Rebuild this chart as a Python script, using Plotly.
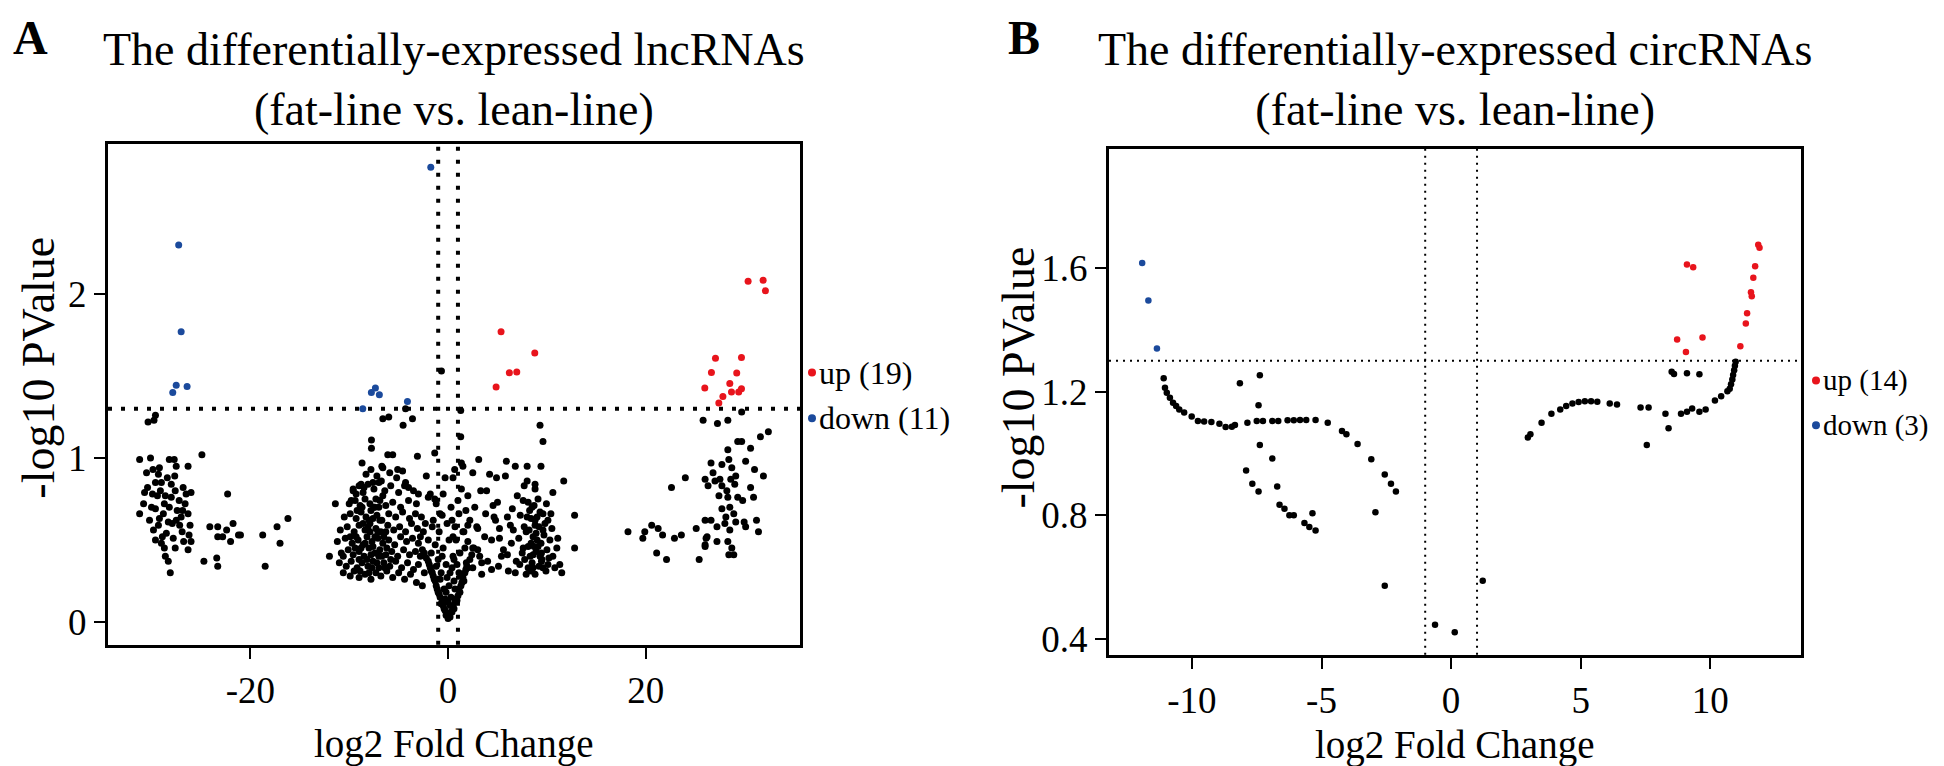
import plotly.graph_objects as go

# ---------------- Panel A: lncRNAs (log2FC, -log10 P) ----------------
lnc_up = [(5.36, 1.77), (8.77, 1.64), (6.2, 1.52), (6.95, 1.524), (4.86, 1.433),
          (30.35, 2.078), (31.87, 2.084), (32.1, 2.02), (27.05, 1.609), (29.68, 1.613),
          (26.64, 1.522), (29.2, 1.518), (25.97, 1.427), (28.5, 1.455), (28.67, 1.403),
          (29.4, 1.403), (29.68, 1.423), (27.8, 1.375), (27.39, 1.336)]

lnc_down = [(-1.75, 2.774), (-27.25, 2.30), (-27.0, 1.77), (-27.5, 1.444), (-27.85, 1.40),
            (-26.4, 1.436), (-8.63, 1.30), (-7.76, 1.40), (-7.35, 1.427), (-6.95, 1.386),
            (-4.11, 1.345)]

lnc_ns_left = [(-30.35, 1.22), (-29.75, 1.23), (-29.6, 1.26), (-31.2, 0.99), (-30.1, 1.0),
               (-28.2, 0.99), (-27.7, 0.99), (-27.5, 0.95), (-26.3, 0.95), (-30.5, 0.91),
               (-29.85, 0.93), (-29.2, 0.94), (-28.4, 0.88), (-27.65, 0.89), (-30.4, 0.82),
               (-29.6, 0.85), (-29.0, 0.85), (-26.8, 0.82), (-26.0, 0.79), (-29.9, 0.78),
               (-29.1, 0.80), (-28.6, 0.77), (-28.0, 0.76), (-30.8, 0.72), (-29.6, 0.69),
               (-28.7, 0.72), (-26.6, 0.72), (-31.2, 0.66), (-30.2, 0.62), (-29.2, 0.63),
               (-28.3, 0.61), (-27.5, 0.62), (-26.85, 0.68), (-26.3, 0.66), (-29.3, 0.59),
               (-27.15, 0.59), (-26.1, 0.59), (-29.6, 0.50), (-28.9, 0.52), (-27.8, 0.51),
               (-26.75, 0.49), (-26.0, 0.49), (-26.3, 0.44), (-28.6, 0.40), (-28.3, 0.37),
               (-28.1, 0.30), (-30.0, 0.70), (-29.4, 0.77), (-28.8, 0.66), (-28.2, 0.70),
               (-27.6, 0.80), (-27.2, 0.74), (-26.9, 0.55), (-27.0, 0.64), (-28.5, 0.54),
               (-29.0, 0.48), (-27.9, 0.60), (-26.5, 0.78), (-30.7, 0.79), (-29.8, 0.56),
               (-28.0, 0.84), (-27.4, 0.68), (-26.2, 0.53), (-28.7, 0.45), (-27.6, 0.45),
               (-29.3, 0.90), (-24.9, 1.02), (-22.3, 0.78), (-24.7, 0.37), (-24.1, 0.58),
               (-23.3, 0.58), (-23.3, 0.52), (-22.8, 0.52), (-22.4, 0.56), (-22.0, 0.49),
               (-21.75, 0.60), (-21.2, 0.53), (-21.0, 0.53), (-23.4, 0.39), (-23.3, 0.34),
               (-18.75, 0.53), (-18.5, 0.34), (-17.3, 0.58), (-17.0, 0.48), (-16.2, 0.63)]

lnc_ns_center = [(-12.0, 0.40), (-11.4, 0.72), (-10.6, 0.40), (-9.6, 0.81), (-8.7, 0.97),
                 (-7.75, 1.11), (-7.75, 1.06), (-6.6, 1.24), (-6.0, 1.25), (-4.55, 1.20),
                 (-4.3, 1.30), (-3.6, 1.24), (-0.67, 1.53), (-1.35, 1.03), (-3.1, 1.01),
                 (2.5, 0.91), (1.35, 0.97), (1.28, 1.29), (1.28, 1.13), (0.67, 0.93),
                 (0.5, 0.88), (1.35, 0.81), (1.0, 0.74), (-2.2, 0.89), (-3.0, 0.78),
                 (-4.0, 0.82), (-4.4, 0.83), (-6.1, 1.02), (-5.6, 1.02), (-6.7, 0.95),
                 (-5.1, 0.93), (-6.75, 0.86), (-7.6, 0.85), (-8.8, 0.84), (-9.3, 0.78),
                 (-9.8, 0.74), (-2.0, 0.76), (-1.35, 0.75), (3.1, 0.99), (4.9, 0.88),
                 (5.8, 0.89), (5.9, 0.98), (3.9, 0.80), (8.0, 0.95), (9.4, 0.95),
                 (9.3, 1.20), (9.6, 1.10), (11.7, 0.86), (12.8, 0.65), (12.8, 0.45),
                 (10.6, 0.79), (11.5, 0.30), (4.55, 0.71), (4.65, 0.64), (6.0, 0.64),
                 (6.5, 0.69), (4.4, 0.50), (5.2, 0.57), (6.3, 0.59), (6.4, 0.48),
                 (5.2, 0.51), (4.0, 0.37), (5.1, 0.34), (6.1, 0.31), (5.4, 0.40),
                 (7.7, 0.83), (8.0, 0.86), (8.8, 0.84), (7.6, 0.74), (8.1, 0.73),
                 (8.8, 0.81), (9.95, 0.72), (9.3, 0.67), (10.1, 0.62), (10.5, 0.57),
                 (11.1, 0.51), (9.6, 0.56), (8.8, 0.59), (8.4, 0.63), (7.9, 0.55),
                 (7.6, 0.45), (7.15, 0.51), (6.9, 0.37), (7.25, 0.35), (8.1, 0.33),
                 (8.8, 0.29), (9.6, 0.33), (10.1, 0.35), (10.8, 0.33), (7.9, 0.29),
                 (8.6, 0.41), (9.1, 0.46), (8.4, 0.48), (8.9, 0.54), (8.25, 0.68),
                 (8.7, 0.71), (9.0, 0.64), (9.45, 0.42), (9.45, 0.37), (7.75, 0.38),
                 (3.4, 0.36), (3.0, 0.44), (3.0, 0.57), (2.0, 0.49), (1.85, 0.36),
                 (1.35, 0.29), (2.5, 0.33), (3.4, 0.29), (2.0, 0.59),
                 (8.3, 0.40), (8.9, 0.43), (9.4, 0.48), (8.6, 0.52), (9.2, 0.58),
                 (8.8, 0.62), (9.6, 0.66), (8.5, 0.70), (9.1, 0.75), (9.5, 0.38),
                 (10.0, 0.44), (10.3, 0.50), (7.7, 0.58), (7.3, 0.65), (8.1, 0.46),
                 (9.9, 0.31), (8.6, 0.33), (7.5, 0.42), (9.7, 0.53), (10.6, 0.40),
                 (11.0, 0.45), (11.3, 0.35), (10.4, 0.66), (7.0, 0.77), (6.6, 0.56),
                 (5.6, 0.44), (4.8, 0.62), (3.7, 0.52), (2.7, 0.70), (2.2, 0.62),
                 (1.6, 0.55), (3.3, 0.80), (2.0, 0.77), (4.2, 0.90), (6.8, 0.95),
                 (1.5, 0.95), (1.8, 0.68), (2.9, 0.58), (3.8, 0.66), (5.0, 0.73),
                 (6.0, 0.41), (6.8, 0.30), (4.4, 0.32), (3.2, 0.40), (2.5, 0.45),
                 (8.5, 0.36), (9.0, 0.50), (8.2, 0.56), (9.3, 0.40), (8.7, 0.46),
                 (9.8, 0.60), (8.0, 0.64), (9.2, 0.34), (8.4, 0.31), (10.2, 0.39),
                 (-10.6, 0.30), (-9.9, 0.28), (-9.5, 0.31), (-9.0, 0.27), (-8.4, 0.29),
                 (-7.8, 0.26), (-7.3, 0.30), (-6.8, 0.28), (-6.2, 0.31), (-5.6, 0.27),
                 (-5.0, 0.30), (-4.4, 0.26), (-3.8, 0.29), (-3.2, 0.24), (-2.6, 0.22),
                 (-11.0, 0.36), (-10.3, 0.34), (-9.8, 0.37), (-9.2, 0.33), (-8.7, 0.36),
                 (-8.1, 0.34), (-7.6, 0.37), (-7.0, 0.33), (-6.5, 0.36), (-5.9, 0.34),
                 (-5.3, 0.37), (-4.7, 0.33), (-4.1, 0.36), (-3.5, 0.32), (-3.0, 0.35),
                 (-2.4, 0.30), (-10.8, 0.42), (-10.1, 0.44), (-9.6, 0.41), (-9.0, 0.43),
                 (-8.5, 0.40), (-8.0, 0.45), (-7.4, 0.42), (-6.9, 0.44), (-6.3, 0.41),
                 (-5.7, 0.43), (-5.1, 0.40), (-4.5, 0.44), (-3.9, 0.41), (-3.3, 0.43),
                 (-2.8, 0.40), (-11.2, 0.49), (-10.4, 0.51), (-9.7, 0.48), (-9.1, 0.50),
                 (-8.6, 0.47), (-8.2, 0.52), (-7.7, 0.49), (-7.1, 0.51), (-6.6, 0.48),
                 (-6.0, 0.50), (-5.4, 0.47), (-4.8, 0.52), (-4.2, 0.49), (-3.6, 0.51),
                 (-3.0, 0.48), (-10.9, 0.56), (-10.2, 0.58), (-9.5, 0.55), (-9.0, 0.59),
                 (-8.4, 0.56), (-7.9, 0.60), (-7.3, 0.57), (-6.8, 0.55), (-6.1, 0.59),
                 (-5.5, 0.56), (-4.9, 0.58), (-4.3, 0.55), (-3.7, 0.60), (-3.1, 0.57),
                 (-2.5, 0.55), (-10.5, 0.64), (-9.9, 0.66), (-9.3, 0.63), (-8.8, 0.67),
                 (-8.3, 0.64), (-7.8, 0.68), (-7.2, 0.65), (-6.7, 0.62), (-6.0, 0.66),
                 (-5.3, 0.64), (-4.6, 0.67), (-3.9, 0.63), (-3.3, 0.66), (-2.7, 0.64),
                 (-10.0, 0.72), (-9.4, 0.74), (-8.9, 0.71), (-8.4, 0.75), (-7.9, 0.72),
                 (-7.4, 0.70), (-6.9, 0.74), (-6.3, 0.71), (-5.6, 0.73), (-4.8, 0.70),
                 (-4.0, 0.74), (-3.2, 0.72), (-9.6, 0.80), (-9.0, 0.83), (-8.6, 0.79),
                 (-8.1, 0.84), (-7.5, 0.81), (-7.0, 0.85), (-6.4, 0.80), (-5.8, 0.83),
                 (-5.0, 0.79), (-4.3, 0.85), (-3.5, 0.80), (-8.3, 0.90), (-7.8, 0.93),
                 (-7.2, 0.89), (-6.6, 0.94), (-5.9, 0.91), (-5.2, 0.88), (-4.6, 0.92),
                 (-8.2, 0.38), (-7.6, 0.46), (-7.1, 0.55), (-8.0, 0.62), (-7.5, 0.70),
                 (-6.6, 0.77), (-8.8, 0.45), (-9.3, 0.52), (-6.2, 0.45), (-5.8, 0.38),
                 (-7.0, 0.40), (-8.6, 0.60), (-7.7, 0.33), (-9.0, 0.38), (-6.5, 0.52),
                 (-7.9, 0.55), (-8.4, 0.48), (-6.9, 0.62), (-7.3, 0.75), (-8.7, 0.70),
                 (-8.9, 0.31), (-8.0, 0.30), (-7.2, 0.36), (-6.4, 0.33), (-9.4, 0.45),
                 (-7.8, 0.41), (-6.7, 0.40), (-9.9, 0.52), (-8.1, 0.58), (-7.4, 0.52),
                 (-6.3, 0.55), (-9.2, 0.68), (-7.6, 0.63), (-7.0, 0.70), (-8.5, 0.82),
                 (-2.0, 0.50), (-1.5, 0.62), (-1.2, 0.72), (-0.8, 0.66), (-2.3, 0.60),
                 (-1.8, 0.78), (-0.5, 0.78), (0.3, 0.70), (0.7, 0.58), (1.1, 0.66),
                 (-1.7, 0.42), (1.7, 0.45), (-2.8, 0.52), (-0.3, 0.88), (0.5, 0.52)]

lnc_ns_vshape = [(0.0, 0.02), (0.1, 0.04), (-0.1, 0.05), (0.2, 0.03), (-0.2, 0.04),
                 (0.3, 0.06), (-0.3, 0.07), (0.4, 0.06), (-0.4, 0.08), (0.5, 0.09),
                 (-0.5, 0.10), (0.6, 0.08), (-0.6, 0.12), (0.7, 0.12), (-0.7, 0.11),
                 (0.8, 0.14), (-0.8, 0.15), (0.9, 0.13), (-0.9, 0.17), (1.0, 0.16),
                 (-1.0, 0.18), (1.1, 0.20), (-1.1, 0.20), (1.2, 0.18), (-1.2, 0.22),
                 (1.3, 0.22), (-1.3, 0.25), (1.4, 0.24), (-1.4, 0.26), (1.5, 0.27),
                 (-1.5, 0.28), (1.6, 0.25), (-1.6, 0.30), (1.7, 0.30), (-1.7, 0.31),
                 (1.8, 0.32), (-1.8, 0.33), (1.9, 0.34), (-1.9, 0.35), (2.0, 0.33),
                 (-2.0, 0.37), (2.2, 0.38), (-2.2, 0.39), (2.4, 0.41), (-2.4, 0.42),
                 (2.6, 0.45), (-2.6, 0.44), (0.3, 0.15), (-0.4, 0.20), (0.6, 0.25),
                 (-0.7, 0.30), (0.9, 0.35), (-1.0, 0.38), (0.2, 0.30), (-0.2, 0.35),
                 (0.5, 0.40), (-0.5, 0.45), (1.2, 0.42), (-1.3, 0.47), (0.8, 0.50),
                 (-0.9, 0.55), (0.1, 0.50), (-0.1, 0.60), (0.4, 0.62), (-0.6, 0.65),
                 (1.5, 0.55), (-1.6, 0.58), (0.0, 0.12), (0.1, 0.22), (-0.1, 0.27),
                 (0.4, 0.33), (-0.3, 0.14), (0.7, 0.20), (-0.8, 0.26), (1.1, 0.30),
                 (-1.2, 0.34), (0.2, 0.10), (-0.2, 0.18), (0.6, 0.38), (-0.6, 0.40)]

lnc_ns_right = [(18.2, 0.55), (19.7, 0.51), (19.9, 0.55), (20.6, 0.59), (21.25, 0.57),
                (21.7, 0.53), (21.1, 0.42), (22.1, 0.38), (22.9, 0.51), (23.6, 0.53),
                (22.6, 0.82), (24.0, 0.88), (25.1, 0.57), (25.4, 0.38), (26.0, 0.47),
                (26.1, 0.51), (25.8, 1.23), (27.25, 1.21), (28.3, 1.23), (29.7, 1.28),
                (32.4, 1.16), (31.6, 1.13), (29.3, 1.10), (29.7, 1.10), (30.6, 1.06),
                (28.3, 1.05), (28.4, 0.99), (30.1, 0.98), (26.6, 0.97), (27.7, 0.96),
                (28.7, 0.94), (31.0, 0.93), (31.9, 0.89), (26.8, 0.91), (26.0, 0.87),
                (26.3, 0.83), (27.0, 0.86), (27.7, 0.83), (29.0, 0.84), (28.2, 0.80),
                (27.4, 0.77), (28.3, 0.76), (29.3, 0.76), (30.6, 0.82), (30.9, 0.76),
                (29.8, 0.74), (27.7, 0.69), (28.5, 0.70), (28.9, 0.66), (26.0, 0.62),
                (26.6, 0.62), (28.1, 0.64), (29.1, 0.61), (29.95, 0.61), (31.2, 0.62),
                (27.2, 0.58), (28.5, 0.56), (30.1, 0.58), (31.4, 0.55), (26.2, 0.52),
                (27.2, 0.49), (28.3, 0.49), (28.7, 0.45), (28.4, 0.41), (28.9, 0.41),
                (26.0, 0.46), (28.0, 0.60), (27.5, 0.87), (28.6, 0.87), (29.1, 0.89)]

# ---------------- Panel B: circRNAs ----------------
circ_up = [(9.1, 1.613), (9.34, 1.604), (11.85, 1.677), (11.9, 1.667), (11.73, 1.607),
           (11.66, 1.57), (11.57, 1.523), (11.6, 1.51), (11.37, 1.422), (11.42, 1.455),
           (8.72, 1.37), (9.7, 1.376), (9.06, 1.329), (11.16, 1.348)]

circ_down = [(-11.92, 1.618), (-11.68, 1.496), (-11.35, 1.341)]

circ_ns = [(-11.09, 1.244), (-11.04, 1.213), (-10.97, 1.197), (-10.85, 1.181), (-10.73, 1.165),
           (-10.61, 1.154), (-10.49, 1.143), (-10.3, 1.133), (-10.01, 1.12), (-9.77, 1.106),
           (-9.53, 1.104), (-9.25, 1.102), (-8.94, 1.097), (-8.7, 1.086), (-8.46, 1.087),
           (-8.34, 1.093), (-7.86, 1.10), (-7.5, 1.106), (-7.26, 1.106), (-6.9, 1.106),
           (-6.67, 1.106), (-6.31, 1.108), (-6.07, 1.108), (-5.83, 1.109), (-5.59, 1.109),
           (-5.23, 1.109), (-4.76, 1.10), (-4.21, 1.073), (-4.04, 1.063), (-3.61, 1.031),
           (-3.08, 0.982), (-2.56, 0.932), (-2.32, 0.902), (-2.13, 0.877), (-2.92, 0.81),
           (-2.56, 0.572), (-7.43, 1.157), (-7.38, 1.028), (-6.9, 0.984), (-7.91, 0.945),
           (-7.67, 0.902), (-7.43, 0.877), (-6.71, 0.893), (-6.62, 0.834), (-6.43, 0.821),
           (-6.24, 0.80), (-6.07, 0.80), (-5.66, 0.775), (-5.47, 0.762), (-5.23, 0.751),
           (-5.35, 0.807), (-8.15, 1.228), (-7.38, 1.254), (-0.62, 0.445), (0.14, 0.421),
           (1.22, 0.588), (2.96, 1.052), (3.06, 1.063), (3.49, 1.10), (3.87, 1.129),
           (4.21, 1.143), (4.44, 1.154), (4.68, 1.162), (4.92, 1.167), (5.16, 1.17),
           (5.4, 1.17), (5.64, 1.168), (6.12, 1.162), (6.4, 1.159), (7.31, 1.149),
           (7.62, 1.149), (7.55, 1.028), (8.27, 1.129), (8.39, 1.082), (8.87, 1.129),
           (9.1, 1.136), (9.3, 1.146), (9.58, 1.136), (9.82, 1.143), (10.18, 1.172),
           (10.42, 1.186), (10.66, 1.202), (10.75, 1.21), (10.8, 1.225), (10.85, 1.24),
           (10.88, 1.255), (10.92, 1.27), (10.95, 1.285), (10.98, 1.298), (8.51, 1.265),
           (8.6, 1.258), (9.1, 1.26), (9.58, 1.257)]

lnc_legend = ["up (19)", "down (11)"]
circ_legend = ["up (14)", "down (3)"]
titles = ["The differentially-expressed lncRNAs<br>(fat-line vs. lean-line)",
          "The differentially-expressed circRNAs<br>(fat-line vs. lean-line)"]
panel_labels = ["A", "B"]
lnc_xticks = [-20, 0, 20]
lnc_yticks = [0, 1, 2]
circ_xticks = [-10, -5, 0, 5, 10]
circ_yticks = [0.4, 0.8, 1.2, 1.6]
FC_CUT = 1.0
P_CUT = 1.301

RED = "#E8141C"
BLUE = "#1B4A9C"
BLACK = "#000000"
FONT = "Liberation Serif"

W, H = 1944, 766
# box positions in pixels (left, right, top, bottom)
boxA = (100, 792, 137, 641)
boxB = (1101, 1793, 142, 651)


def dom(box):
    l, r, t, b = box
    return [l / W, r / W], [1 - b / H, 1 - t / H]


def lab(v):
    return "%g" % v  # plain hyphen-minus as in the reference


fig = go.Figure()


def add_pts(pts, color, size, xa, ya):
    fig.add_trace(go.Scatter(
        x=[p[0] for p in pts], y=[p[1] for p in pts], mode="markers",
        marker=dict(color=color, size=size, line=dict(width=0)),
        xaxis=xa, yaxis=ya, showlegend=False, hoverinfo="x+y"))


lnc_ns = lnc_ns_left + lnc_ns_center + lnc_ns_vshape + lnc_ns_right
add_pts(lnc_ns, BLACK, 7, "x", "y")
add_pts(lnc_up, RED, 7, "x", "y")
add_pts(lnc_down, BLUE, 7, "x", "y")
add_pts(circ_ns, BLACK, 6.5, "x2", "y2")
add_pts(circ_up, RED, 6.5, "x2", "y2")
add_pts(circ_down, BLUE, 6.5, "x2", "y2")

xdA, ydA = dom(boxA)
xdB, ydB = dom(boxB)
tickfont = dict(family=FONT, size=37, color="black")
axcommon = dict(showline=True, linecolor="black", linewidth=3, mirror=True,
                ticks="outside", ticklen=11, tickwidth=2, tickcolor="black",
                showgrid=False, zeroline=False, tickfont=tickfont)

fig.update_layout(
    width=W, height=H, paper_bgcolor="white", plot_bgcolor="white",
    margin=dict(l=0, r=0, t=0, b=0),
    xaxis=dict(domain=xdA, range=[-34.4, 35.6], tickvals=lnc_xticks,
               ticktext=[lab(v) for v in lnc_xticks], anchor="y", **axcommon),
    yaxis=dict(domain=ydA, range=[-0.14, 2.915], tickvals=lnc_yticks,
               ticktext=[lab(v) for v in lnc_yticks], anchor="x", **axcommon),
    xaxis2=dict(domain=xdB, range=[-13.2, 13.5], tickvals=circ_xticks,
                ticktext=[lab(v) for v in circ_xticks], anchor="y2", **axcommon),
    yaxis2=dict(domain=ydB, range=[0.348, 1.987], tickvals=circ_yticks,
                ticktext=["%.1f" % v for v in circ_yticks], anchor="x2", **axcommon),
)

# threshold lines
for xr, yr, dash, lw in [("x", "y", "4px,9px", 4), ("x2", "y2", "2px,5px", 2)]:
    for fc in (-FC_CUT, FC_CUT):
        fig.add_shape(type="line", xref=xr, yref=yr + " domain", x0=fc, x1=fc, y0=0, y1=1,
                      line=dict(color="black", width=lw, dash=dash), layer="below")
    fig.add_shape(type="line", xref=xr + " domain", yref=yr, x0=0, x1=1, y0=P_CUT, y1=P_CUT,
                  line=dict(color="black", width=lw, dash=dash), layer="below")

ann = []
# titles
for box, txt, ty in [(boxA, titles[0], 72), (boxB, titles[1], 72)]:
    cx = (box[0] + box[1]) / 2
    ann.append(dict(text=txt, x=cx / W, y=1 - ty / H, xref="paper", yref="paper",
                    xanchor="center", yanchor="middle", showarrow=False,
                    font=dict(family=FONT, size=46, color="black")))
# panel labels
for lbl, px in [(panel_labels[0], 3), (panel_labels[1], 998)]:
    ann.append(dict(text="<b>" + lbl + "</b>", x=px / W, y=1 - 30 / H, xref="paper", yref="paper",
                    xanchor="left", yanchor="middle", showarrow=False,
                    font=dict(family=FONT, size=48, color="black")))
# axis titles
for box, xl_y, yl_x, yl_y in [(boxA, 741, 31, 362), (boxB, 742, 1011, 372)]:
    cx = (box[0] + box[1]) / 2
    ann.append(dict(text="log2 Fold Change", x=cx / W, y=1 - xl_y / H, xref="paper", yref="paper",
                    xanchor="center", yanchor="middle", showarrow=False,
                    font=dict(family=FONT, size=39, color="black")))
    ann.append(dict(text="-log10 PValue", x=yl_x / W, y=1 - yl_y / H, xref="paper", yref="paper",
                    xanchor="center", yanchor="middle", showarrow=False, textangle=-90,
                    font=dict(family=FONT, size=46, color="black")))

# legends
for labels, dx, ys, fs in [(lnc_legend, 804, (367, 413), 32), (circ_legend, 1808, (375, 420), 29)]:
    for lab_, col, py in zip(labels, (RED, BLUE), ys):
        fig.add_shape(type="circle", xref="paper", yref="paper", xsizemode="pixel",
                      ysizemode="pixel", xanchor=dx / W, yanchor=1 - py / H,
                      x0=-4, x1=4, y0=-4, y1=4, fillcolor=col, line=dict(width=0))
        ann.append(dict(text=lab_, x=(dx + 5) / W, y=1 - py / H, xref="paper", yref="paper",
                        xanchor="left", yanchor="middle", showarrow=False,
                        font=dict(family=FONT, size=fs, color="black")))

fig.update_layout(annotations=ann)
fig.write_html("out.html")
